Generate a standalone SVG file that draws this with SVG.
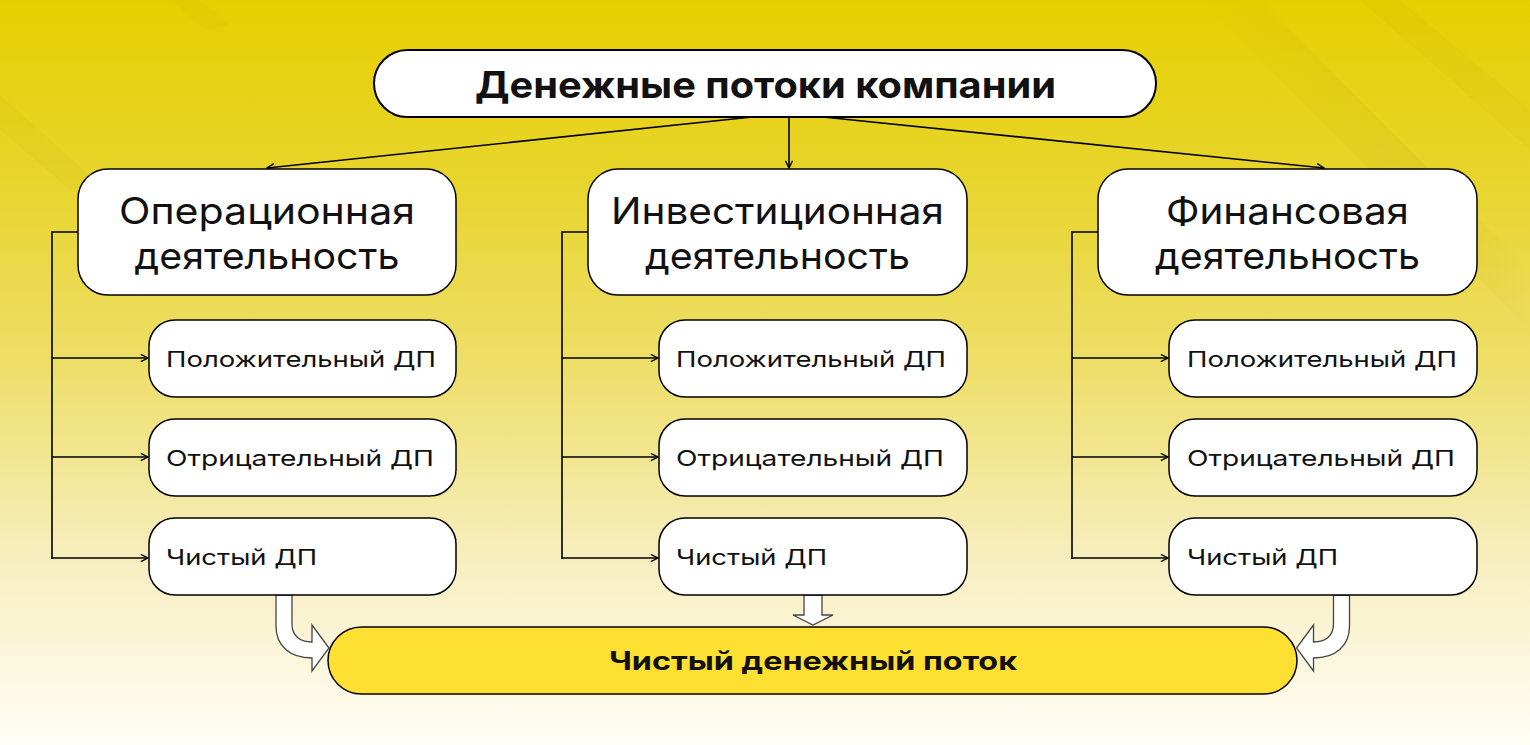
<svg xmlns="http://www.w3.org/2000/svg" width="1530" height="745" viewBox="0 0 1530 745">
<defs>
<linearGradient id="bg" x1="0" y1="0" x2="0" y2="1">
<stop offset="0" stop-color="#E6CF00"/>
<stop offset="0.25" stop-color="#E8D52E"/>
<stop offset="0.5" stop-color="#EEDF6C"/>
<stop offset="0.75" stop-color="#F7EEBF"/>
<stop offset="1" stop-color="#FFFEF6"/>
</linearGradient>
<linearGradient id="streak" x1="0" y1="0" x2="1" y2="0">
<stop offset="0" stop-color="#B8A000" stop-opacity="0"/>
<stop offset="0.7" stop-color="#B8A000" stop-opacity="0.18"/>
<stop offset="1" stop-color="#B8A000" stop-opacity="0"/>
</linearGradient>
<marker id="chev" viewBox="0 0 10 10" refX="9" refY="5" markerWidth="9" markerHeight="9" markerUnits="userSpaceOnUse" orient="auto">
<path d="M1,1 L9,5 L1,9" fill="none" stroke="#000" stroke-width="1.5"/>
</marker>
<path id="bendArrow" d="M276,595 L292,595 L292,624 C292,636 300,642 312,642 L312,625 L329,648 L312,671 L312,658 C290,658 276,646 276,626 Z"/>
</defs>
<style>
.box{fill:#fff;stroke:#000;stroke-width:1.5}
.main{fill:#fff;stroke:#000;stroke-width:2}
.total{fill:#FDE032;stroke:#000;stroke-width:1.5}
.t{font-family:Inter,"Noto Sans","DejaVu Sans",sans-serif;fill:#111}
.big{font-size:37px}
.sub{font-size:22px}
.bold{font-weight:700}
.line{fill:none;stroke:#000;stroke-width:1.6}
.block{fill:#fff;stroke:#444;stroke-width:1.3}
</style>
<rect width="1530" height="745" fill="url(#bg)"/>
<polygon points="1200,0 1260,0 1530,270 1530,330" fill="url(#streak)" opacity="0.8"/>
<polygon points="1360,0 1400,0 1530,110 1530,150" fill="#B8A000" opacity="0.06"/>
<polygon points="0,95 0,130 70,190 95,180" fill="#B8A000" opacity="0.07"/>
<polygon points="170,0 200,0 230,25 205,30" fill="#B8A000" opacity="0.05"/>

<g id="connectors">
<line class="line" x1="752" y1="117" x2="267" y2="168" marker-end="url(#chev)"/>
<line class="line" x1="789" y1="117" x2="789" y2="168" marker-end="url(#chev)"/>
<line class="line" x1="823" y1="117" x2="1324" y2="168" marker-end="url(#chev)"/>
<polyline class="line" points="78,232 52,232 52,559"/>
<line class="line" x1="52" y1="358" x2="148" y2="358" marker-end="url(#chev)"/>
<line class="line" x1="52" y1="457" x2="148" y2="457" marker-end="url(#chev)"/>
<line class="line" x1="52" y1="558" x2="148" y2="558" marker-end="url(#chev)"/>
<polyline class="line" points="588,232 562,232 562,559"/>
<line class="line" x1="562" y1="358" x2="658" y2="358" marker-end="url(#chev)"/>
<line class="line" x1="562" y1="457" x2="658" y2="457" marker-end="url(#chev)"/>
<line class="line" x1="562" y1="558" x2="658" y2="558" marker-end="url(#chev)"/>
<polyline class="line" points="1098,232 1072,232 1072,559"/>
<line class="line" x1="1072" y1="358" x2="1168" y2="358" marker-end="url(#chev)"/>
<line class="line" x1="1072" y1="457" x2="1168" y2="457" marker-end="url(#chev)"/>
<line class="line" x1="1072" y1="558" x2="1168" y2="558" marker-end="url(#chev)"/>
<use href="#bendArrow" class="block"/>
<use href="#bendArrow" class="block" transform="translate(1625.5,0) scale(-1,1)"/>
<path class="block" d="M804,595 L822,595 L822,615 L833,615 L813,625 L793,615 L804,615 Z"/>
</g>

<g id="root">
<rect class="main" x="374" y="50" width="782" height="67" rx="33.5"/>
<text class="t big bold" x="765.5" y="98" text-anchor="middle" font-size="35" textLength="581" lengthAdjust="spacingAndGlyphs">Денежные потоки компании</text>
</g>

<g id="operating">
<rect class="box" x="78" y="169" width="378" height="126" rx="30"/>
<text class="t big" x="267" y="224" text-anchor="middle" textLength="296" lengthAdjust="spacingAndGlyphs">Операционная</text>
<text class="t big" x="267" y="269" text-anchor="middle" textLength="265" lengthAdjust="spacingAndGlyphs">деятельность</text>
</g>
<g id="investing">
<rect class="box" x="588" y="169" width="379" height="126" rx="30"/>
<text class="t big" x="777.5" y="224" text-anchor="middle" textLength="333" lengthAdjust="spacingAndGlyphs">Инвестиционная</text>
<text class="t big" x="777.5" y="269" text-anchor="middle" textLength="265" lengthAdjust="spacingAndGlyphs">деятельность</text>
</g>
<g id="financing">
<rect class="box" x="1098" y="169" width="379" height="126" rx="30"/>
<text class="t big" x="1287.5" y="224" text-anchor="middle" textLength="243" lengthAdjust="spacingAndGlyphs">Финансовая</text>
<text class="t big" x="1287.5" y="269" text-anchor="middle" textLength="265" lengthAdjust="spacingAndGlyphs">деятельность</text>
</g>

<g id="op-pos"><rect class="box" x="149" y="320" width="307" height="77" rx="26"/><text class="t sub" x="166" y="367" textLength="270" lengthAdjust="spacingAndGlyphs">Положительный ДП</text></g>
<g id="op-neg"><rect class="box" x="149" y="419" width="307" height="77" rx="26"/><text class="t sub" x="166" y="466" textLength="268" lengthAdjust="spacingAndGlyphs">Отрицательный ДП</text></g>
<g id="op-net"><rect class="box" x="149" y="518" width="307" height="77" rx="26"/><text class="t sub" x="166" y="565" textLength="151" lengthAdjust="spacingAndGlyphs">Чистый ДП</text></g>

<g id="inv-pos"><rect class="box" x="659" y="320" width="308" height="77" rx="26"/><text class="t sub" x="676" y="367" textLength="270" lengthAdjust="spacingAndGlyphs">Положительный ДП</text></g>
<g id="inv-neg"><rect class="box" x="659" y="419" width="308" height="77" rx="26"/><text class="t sub" x="676" y="466" textLength="268" lengthAdjust="spacingAndGlyphs">Отрицательный ДП</text></g>
<g id="inv-net"><rect class="box" x="659" y="518" width="308" height="77" rx="26"/><text class="t sub" x="676" y="565" textLength="151" lengthAdjust="spacingAndGlyphs">Чистый ДП</text></g>

<g id="fin-pos"><rect class="box" x="1169" y="320" width="308" height="77" rx="26"/><text class="t sub" x="1187" y="367" textLength="270" lengthAdjust="spacingAndGlyphs">Положительный ДП</text></g>
<g id="fin-neg"><rect class="box" x="1169" y="419" width="308" height="77" rx="26"/><text class="t sub" x="1187" y="466" textLength="268" lengthAdjust="spacingAndGlyphs">Отрицательный ДП</text></g>
<g id="fin-net"><rect class="box" x="1169" y="518" width="308" height="77" rx="26"/><text class="t sub" x="1187" y="565" textLength="151" lengthAdjust="spacingAndGlyphs">Чистый ДП</text></g>

<g id="net-cash-flow">
<rect class="total" x="328" y="627" width="969" height="67" rx="33.5"/>
<text class="t bold" x="813" y="670" text-anchor="middle" font-size="25" textLength="408" lengthAdjust="spacingAndGlyphs">Чистый денежный поток</text>
</g>
</svg>
